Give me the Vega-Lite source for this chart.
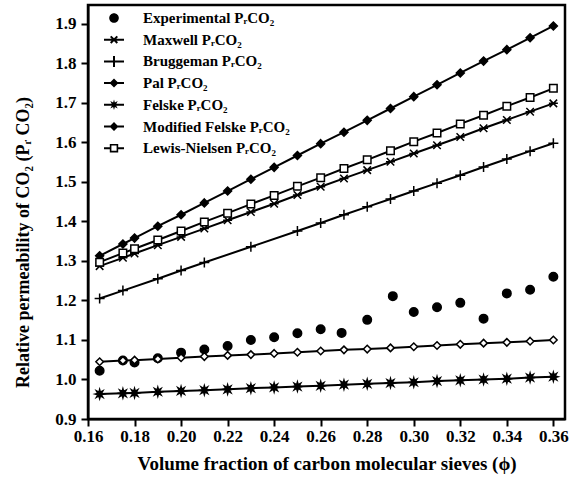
{
  "$schema": "https://vega.github.io/schema/vega-lite/v6.json",
  "autosize": {"type": "none"},
  "padding": {"left": 88, "top": 5, "right": 12, "bottom": 64},
  "width": 477,
  "height": 414,
  "background": "white",
  "config": {
    "view": {"stroke": "black", "strokeWidth": 2.5},
    "axis": {
      "grid": false,
      "domainColor": "black",
      "domainWidth": 2,
      "tickColor": "black",
      "tickWidth": 2,
      "labelFont": "Liberation Serif",
      "labelFontSize": 17,
      "labelFontWeight": "bold",
      "labelColor": "black",
      "titleFont": "Liberation Serif",
      "titleFontSize": 18,
      "titleFontWeight": "bold",
      "titleColor": "black"
    }
  },
  "datasets": {
    "pts": [
      {"series": "Experimental", "x": 0.165, "y": 1.022},
      {"series": "Experimental", "x": 0.175, "y": 1.048},
      {"series": "Experimental", "x": 0.18, "y": 1.043},
      {"series": "Experimental", "x": 0.19, "y": 1.054},
      {"series": "Experimental", "x": 0.2, "y": 1.068},
      {"series": "Experimental", "x": 0.21, "y": 1.076},
      {"series": "Experimental", "x": 0.22, "y": 1.085},
      {"series": "Experimental", "x": 0.23, "y": 1.1},
      {"series": "Experimental", "x": 0.24, "y": 1.107},
      {"series": "Experimental", "x": 0.25, "y": 1.117},
      {"series": "Experimental", "x": 0.26, "y": 1.127},
      {"series": "Experimental", "x": 0.269, "y": 1.118},
      {"series": "Experimental", "x": 0.28, "y": 1.151},
      {"series": "Experimental", "x": 0.291, "y": 1.211},
      {"series": "Experimental", "x": 0.3, "y": 1.171},
      {"series": "Experimental", "x": 0.31, "y": 1.183},
      {"series": "Experimental", "x": 0.32, "y": 1.194},
      {"series": "Experimental", "x": 0.33, "y": 1.154},
      {"series": "Experimental", "x": 0.34, "y": 1.218},
      {"series": "Experimental", "x": 0.35, "y": 1.227},
      {"series": "Experimental", "x": 0.36, "y": 1.26},

      {"series": "Maxwell", "x": 0.165, "y": 1.287},
      {"series": "Maxwell", "x": 0.175, "y": 1.308},
      {"series": "Maxwell", "x": 0.18, "y": 1.319},
      {"series": "Maxwell", "x": 0.19, "y": 1.34},
      {"series": "Maxwell", "x": 0.2, "y": 1.361},
      {"series": "Maxwell", "x": 0.21, "y": 1.382},
      {"series": "Maxwell", "x": 0.22, "y": 1.403},
      {"series": "Maxwell", "x": 0.23, "y": 1.424},
      {"series": "Maxwell", "x": 0.24, "y": 1.445},
      {"series": "Maxwell", "x": 0.25, "y": 1.467},
      {"series": "Maxwell", "x": 0.26, "y": 1.488},
      {"series": "Maxwell", "x": 0.27, "y": 1.509},
      {"series": "Maxwell", "x": 0.28, "y": 1.53},
      {"series": "Maxwell", "x": 0.29, "y": 1.551},
      {"series": "Maxwell", "x": 0.3, "y": 1.572},
      {"series": "Maxwell", "x": 0.31, "y": 1.593},
      {"series": "Maxwell", "x": 0.32, "y": 1.614},
      {"series": "Maxwell", "x": 0.33, "y": 1.636},
      {"series": "Maxwell", "x": 0.34, "y": 1.657},
      {"series": "Maxwell", "x": 0.35, "y": 1.678},
      {"series": "Maxwell", "x": 0.36, "y": 1.699},

      {"series": "Bruggeman", "x": 0.165, "y": 1.205},
      {"series": "Bruggeman", "x": 0.175, "y": 1.225},
      {"series": "Bruggeman", "x": 0.19, "y": 1.255},
      {"series": "Bruggeman", "x": 0.2, "y": 1.276},
      {"series": "Bruggeman", "x": 0.21, "y": 1.296},
      {"series": "Bruggeman", "x": 0.23, "y": 1.336},
      {"series": "Bruggeman", "x": 0.25, "y": 1.376},
      {"series": "Bruggeman", "x": 0.26, "y": 1.396},
      {"series": "Bruggeman", "x": 0.27, "y": 1.417},
      {"series": "Bruggeman", "x": 0.28, "y": 1.437},
      {"series": "Bruggeman", "x": 0.29, "y": 1.457},
      {"series": "Bruggeman", "x": 0.3, "y": 1.477},
      {"series": "Bruggeman", "x": 0.31, "y": 1.497},
      {"series": "Bruggeman", "x": 0.32, "y": 1.517},
      {"series": "Bruggeman", "x": 0.33, "y": 1.538},
      {"series": "Bruggeman", "x": 0.34, "y": 1.558},
      {"series": "Bruggeman", "x": 0.35, "y": 1.578},
      {"series": "Bruggeman", "x": 0.36, "y": 1.598},

      {"series": "Pal", "x": 0.165, "y": 1.313},
      {"series": "Pal", "x": 0.175, "y": 1.343},
      {"series": "Pal", "x": 0.18, "y": 1.358},
      {"series": "Pal", "x": 0.19, "y": 1.388},
      {"series": "Pal", "x": 0.2, "y": 1.417},
      {"series": "Pal", "x": 0.21, "y": 1.447},
      {"series": "Pal", "x": 0.22, "y": 1.477},
      {"series": "Pal", "x": 0.23, "y": 1.507},
      {"series": "Pal", "x": 0.24, "y": 1.537},
      {"series": "Pal", "x": 0.25, "y": 1.567},
      {"series": "Pal", "x": 0.26, "y": 1.597},
      {"series": "Pal", "x": 0.27, "y": 1.626},
      {"series": "Pal", "x": 0.28, "y": 1.656},
      {"series": "Pal", "x": 0.29, "y": 1.686},
      {"series": "Pal", "x": 0.3, "y": 1.716},
      {"series": "Pal", "x": 0.31, "y": 1.746},
      {"series": "Pal", "x": 0.32, "y": 1.776},
      {"series": "Pal", "x": 0.33, "y": 1.806},
      {"series": "Pal", "x": 0.34, "y": 1.835},
      {"series": "Pal", "x": 0.35, "y": 1.865},
      {"series": "Pal", "x": 0.36, "y": 1.895},

      {"series": "Felske", "x": 0.165, "y": 0.963},
      {"series": "Felske", "x": 0.175, "y": 0.965},
      {"series": "Felske", "x": 0.18, "y": 0.966},
      {"series": "Felske", "x": 0.19, "y": 0.969},
      {"series": "Felske", "x": 0.2, "y": 0.971},
      {"series": "Felske", "x": 0.21, "y": 0.973},
      {"series": "Felske", "x": 0.22, "y": 0.975},
      {"series": "Felske", "x": 0.23, "y": 0.978},
      {"series": "Felske", "x": 0.24, "y": 0.98},
      {"series": "Felske", "x": 0.25, "y": 0.982},
      {"series": "Felske", "x": 0.26, "y": 0.984},
      {"series": "Felske", "x": 0.27, "y": 0.987},
      {"series": "Felske", "x": 0.28, "y": 0.989},
      {"series": "Felske", "x": 0.29, "y": 0.991},
      {"series": "Felske", "x": 0.3, "y": 0.993},
      {"series": "Felske", "x": 0.31, "y": 0.996},
      {"series": "Felske", "x": 0.32, "y": 0.998},
      {"series": "Felske", "x": 0.33, "y": 1.0},
      {"series": "Felske", "x": 0.34, "y": 1.002},
      {"series": "Felske", "x": 0.35, "y": 1.005},
      {"series": "Felske", "x": 0.36, "y": 1.007},

      {"series": "Modified Felske", "x": 0.165, "y": 1.045},
      {"series": "Modified Felske", "x": 0.175, "y": 1.048},
      {"series": "Modified Felske", "x": 0.18, "y": 1.049},
      {"series": "Modified Felske", "x": 0.19, "y": 1.052},
      {"series": "Modified Felske", "x": 0.2, "y": 1.055},
      {"series": "Modified Felske", "x": 0.21, "y": 1.058},
      {"series": "Modified Felske", "x": 0.22, "y": 1.061},
      {"series": "Modified Felske", "x": 0.23, "y": 1.063},
      {"series": "Modified Felske", "x": 0.24, "y": 1.066},
      {"series": "Modified Felske", "x": 0.25, "y": 1.069},
      {"series": "Modified Felske", "x": 0.26, "y": 1.072},
      {"series": "Modified Felske", "x": 0.27, "y": 1.075},
      {"series": "Modified Felske", "x": 0.28, "y": 1.077},
      {"series": "Modified Felske", "x": 0.29, "y": 1.08},
      {"series": "Modified Felske", "x": 0.3, "y": 1.083},
      {"series": "Modified Felske", "x": 0.31, "y": 1.086},
      {"series": "Modified Felske", "x": 0.32, "y": 1.089},
      {"series": "Modified Felske", "x": 0.33, "y": 1.092},
      {"series": "Modified Felske", "x": 0.34, "y": 1.094},
      {"series": "Modified Felske", "x": 0.35, "y": 1.097},
      {"series": "Modified Felske", "x": 0.36, "y": 1.1},

      {"series": "Lewis-Nielsen", "x": 0.165, "y": 1.297},
      {"series": "Lewis-Nielsen", "x": 0.175, "y": 1.32},
      {"series": "Lewis-Nielsen", "x": 0.18, "y": 1.331},
      {"series": "Lewis-Nielsen", "x": 0.19, "y": 1.353},
      {"series": "Lewis-Nielsen", "x": 0.2, "y": 1.376},
      {"series": "Lewis-Nielsen", "x": 0.21, "y": 1.399},
      {"series": "Lewis-Nielsen", "x": 0.22, "y": 1.421},
      {"series": "Lewis-Nielsen", "x": 0.23, "y": 1.444},
      {"series": "Lewis-Nielsen", "x": 0.24, "y": 1.466},
      {"series": "Lewis-Nielsen", "x": 0.25, "y": 1.489},
      {"series": "Lewis-Nielsen", "x": 0.26, "y": 1.511},
      {"series": "Lewis-Nielsen", "x": 0.27, "y": 1.534},
      {"series": "Lewis-Nielsen", "x": 0.28, "y": 1.556},
      {"series": "Lewis-Nielsen", "x": 0.29, "y": 1.579},
      {"series": "Lewis-Nielsen", "x": 0.3, "y": 1.602},
      {"series": "Lewis-Nielsen", "x": 0.31, "y": 1.624},
      {"series": "Lewis-Nielsen", "x": 0.32, "y": 1.647},
      {"series": "Lewis-Nielsen", "x": 0.33, "y": 1.669},
      {"series": "Lewis-Nielsen", "x": 0.34, "y": 1.692},
      {"series": "Lewis-Nielsen", "x": 0.35, "y": 1.714},
      {"series": "Lewis-Nielsen", "x": 0.36, "y": 1.737}
    ]
  },
  "data": {"name": "pts"},
  "encoding": {
    "x": {
      "field": "x", "type": "quantitative",
      "scale": {"domain": [0.16, 0.365], "nice": false, "zero": false},
      "axis": {
        "title": "Volume fraction of carbon molecular sieves (ϕ)",
        "values": [0.16, 0.18, 0.2, 0.22, 0.24, 0.26, 0.28, 0.3, 0.32, 0.34, 0.36],
        "format": ".2f", "tickSize": 7, "labelPadding": 2, "titlePadding": 10, "titleFontSize": 19, "labelFlush": false
      }
    },
    "y": {
      "field": "y", "type": "quantitative",
      "scale": {"domain": [0.9, 1.948], "nice": false, "zero": false},
      "axis": {
        "title": "Relative permeability of CO₂ (Pᵣ CO₂)",
        "values": [0.9, 1.0, 1.1, 1.2, 1.3, 1.4, 1.5, 1.6, 1.7, 1.8, 1.9],
        "format": ".1f", "tickSize": 7, "labelPadding": 5, "titlePadding": 22, "titleY": 237, "labelFlush": false
      }
    }
  },
  "layer": [
    {
      "transform": [{"filter": "datum.series !== 'Experimental'"}],
      "mark": {"type": "line", "color": "black", "strokeWidth": 2},
      "encoding": {"detail": {"field": "series"}}
    },
    {
      "mark": {"type": "point", "filled": true, "stroke": "black", "strokeWidth": 1.5, "size": 100, "opacity": 1},
      "encoding": {
        "shape": {
          "field": "series", "type": "nominal", "legend": null,
          "scale": {
            "domain": ["Experimental", "Maxwell", "Bruggeman", "Pal", "Felske", "Modified Felske", "Lewis-Nielsen"],
            "range": [
              "M0.85,0A0.85,0.85 0 1,1 -0.85,0A0.85,0.85 0 1,1 0.85,0Z",
              "M-0.75,-0.75L0.75,0.75M-0.75,0.75L0.75,-0.75M-0.9,0L0.9,0",
              "M-1,0L1,0M0,-1L0,1",
              "M0,-0.8L0.8,0L0,0.8L-0.8,0Z",
              "M0.9,0L0.37,0.15L0.64,0.64L0.15,0.37L0,0.9L-0.15,0.37L-0.64,0.64L-0.37,0.15L-0.9,0L-0.37,-0.15L-0.64,-0.64L-0.15,-0.37L0,-0.9L0.15,-0.37L0.64,-0.64L0.37,-0.15Z",
              "M0,-0.75L0.75,0L0,0.75L-0.75,0Z",
              "M-0.75,-0.75H0.75V0.75H-0.75Z"
            ]
          }
        },
        "fill": {
          "field": "series", "type": "nominal", "legend": null,
          "scale": {
            "domain": ["Experimental", "Maxwell", "Bruggeman", "Pal", "Felske", "Modified Felske", "Lewis-Nielsen"],
            "range": ["black", "black", "black", "black", "black", "white", "white"]
          }
        }
      }
    },
    {
      "transform": [{"filter": "datum.y < 0"}],
      "mark": {"type": "point", "filled": true, "color": "black", "size": 400, "opacity": 1},
      "encoding": {
        "shape": {
          "field": "series", "type": "nominal",
          "legend": {
            "title": null, "orient": "none", "legendX": 16, "legendY": 3, "padding": 0,
            "labelFont": "Liberation Serif", "labelFontSize": 15, "labelFontWeight": "bold", "labelColor": "black",
            "labelOffset": 19, "labelLimit": 400, "symbolSize": 400, "symbolStrokeWidth": 0,
            "symbolFillColor": "black",
            "rowPadding": 3.7,
            "labelExpr": "datum.label + ' PᵣCO₂'"
          },
          "scale": {
            "domain": ["Experimental", "Maxwell", "Bruggeman", "Pal", "Felske", "Modified Felske", "Lewis-Nielsen"],
            "range": [
              "M0.48,0A0.48,0.48 0 1,1 -0.48,0A0.48,0.48 0 1,1 0.48,0Z",
              "M-1,-0.1H1V0.1H-1ZM-0.26,-0.4L0.4,0.26L0.26,0.4L-0.4,-0.26ZM-0.4,0.26L0.26,-0.4L0.4,-0.26L-0.26,0.4Z",
              "M-1,-0.1H1V0.1H-1ZM-0.1,-0.55H0.1V0.55H-0.1Z",
              "M-1,-0.1H1V0.1H-1ZM0,-0.45L0.45,0L0,0.45L-0.45,0Z",
              "M-1,-0.1H1V0.1H-1ZM0.52,0L0.22,0.09L0.37,0.37L0.09,0.22L0,0.52L-0.09,0.22L-0.37,0.37L-0.22,0.09L-0.52,0L-0.22,-0.09L-0.37,-0.37L-0.09,-0.22L0,-0.52L0.09,-0.22L0.37,-0.37L0.22,-0.09Z",
              "M-1,-0.1H1V0.1H-1ZM0,-0.45L0.45,0L0,0.45L-0.45,0Z",
              "M-1,-0.1H-0.42V0.1H-1ZM0.42,-0.1H1V0.1H0.42ZM-0.42,-0.42H0.42V0.42H-0.42ZM-0.26,-0.26V0.26H0.26V-0.26Z"
            ]
          }
        }
      }
    }
  ],
  "resolve": {"scale": {"shape": "independent", "fill": "independent"}}
}
